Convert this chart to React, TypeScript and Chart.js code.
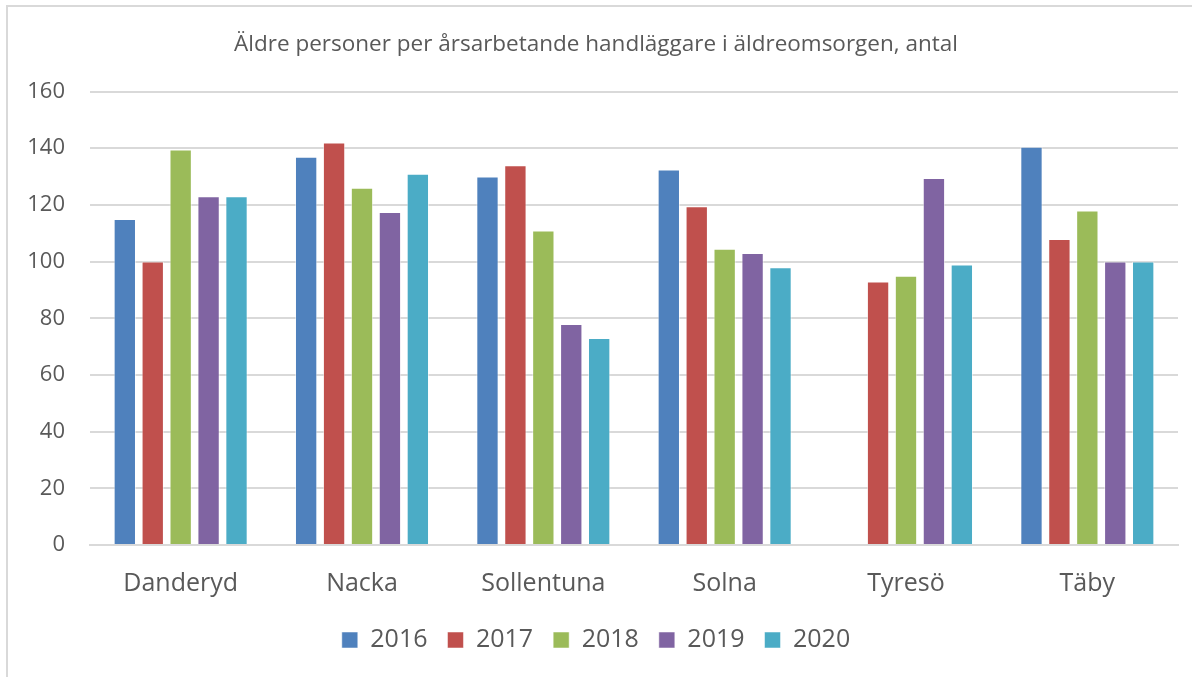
import React, { useEffect, useRef } from "react";
import { Chart, registerables } from "chart.js";

Chart.register(...registerables);

const categories = ["Danderyd", "Nacka", "Sollentuna", "Solna", "Tyresö", "Täby"];
const years = ["2016", "2017", "2018", "2019", "2020"];
const values2016 = [115, 137, 130, 132.5, null, 140.5];
const values2017 = [100, 142, 134, 119.5, 93, 108];
const values2018 = [139.5, 126, 111, 104.5, 95, 118];
const values2019 = [123, 117.5, 78, 103, 129.5, 100];
const values2020 = [123, 131, 73, 98, 99, 100];
const colors = ["#4F81BD", "#C0504D", "#9BBB59", "#8064A2", "#4BACC6"];
const titleText = "Äldre personer per årsarbetande handläggare i äldreomsorgen, antal";

const FONT = "'Open Sans', 'Noto Sans', sans-serif";
const TEXT = "#595959";

export default function App() {
  const ref = useRef<HTMLCanvasElement | null>(null);
  useEffect(() => {
    if (!ref.current) return;
    const series = [values2016, values2017, values2018, values2019, values2020];
    const chart = new Chart(ref.current, {
      type: "bar",
      data: {
        labels: categories,
        datasets: series.map((d, i) => ({
          label: years[i],
          data: d,
          backgroundColor: colors[i],
          borderColor: "rgba(255,255,255,0.5)",
          borderWidth: 1,
          categoryPercentage: 0.77,
          barPercentage: 0.8,
        })),
      },
      options: {
        animation: false,
        responsive: false,
        maintainAspectRatio: false,
        layout: { padding: { left: 14, right: 14, top: 22, bottom: 14.5 } },
        plugins: {
          title: {
            display: true,
            text: titleText,
            color: TEXT,
            font: { family: FONT, size: 22.5, weight: "normal" },
            padding: { top: 9.5, bottom: 33 },
          },
          legend: {
            position: "bottom",
            labels: {
              color: TEXT,
              font: { family: FONT, size: 25 },
              boxWidth: 16,
              boxHeight: 16,
              padding: 20,
              useBorderRadius: false,
            },
          },
          tooltip: { enabled: false },
        },
        scales: {
          x: {
            grid: { display: false, drawTicks: false },
            border: { color: "#d9d9d9", width: 2 },
            ticks: { color: TEXT, font: { family: FONT, size: 25 }, padding: 24 },
            afterFit: (scale: any) => {
              scale.height = 62.5;
            },
          },
          y: {
            min: 0,
            max: 160,
            ticks: {
              stepSize: 20,
              color: TEXT,
              font: { family: FONT, size: 22 },
              padding: 25,
            },
            grid: { color: "#d9d9d9", lineWidth: 2, drawTicks: false },
            border: { display: false },
            afterFit: (scale: any) => {
              scale.width = 76;
            },
          },
        },
      },
    });
    return () => chart.destroy();
  }, []);
  return (
    <div style={{ position: "absolute", left: 0, top: 0, width: 1192, height: 677, background: "#fff" }}>
      <div
        style={{
          position: "absolute",
          left: 6,
          top: 5,
          width: 1186,
          height: 672,
          borderTop: "2px solid #d9d9d9",
          borderLeft: "2px solid #d9d9d9",
        }}
      />
      <canvas ref={ref} width={1192} height={677} style={{ position: "absolute", left: 0, top: 0 }} />
    </div>
  );
}
